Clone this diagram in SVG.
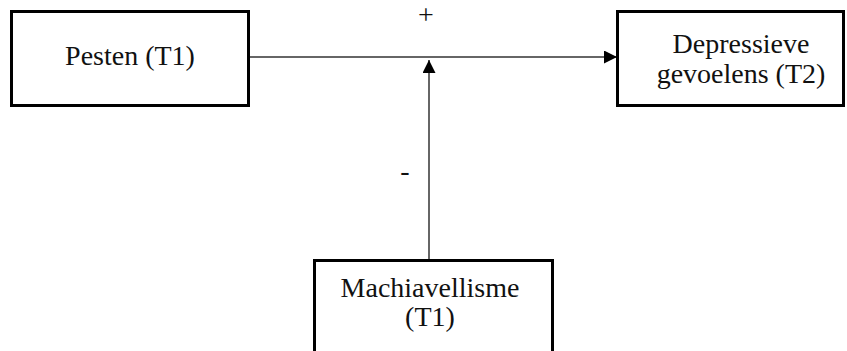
<svg xmlns="http://www.w3.org/2000/svg" width="847" height="351" viewBox="0 0 847 351">
<style>
.box{fill:#fff;stroke:#000;stroke-width:3}
.t{font-family:'Liberation Serif','DejaVu Serif',serif;font-size:28px;fill:#111;text-anchor:middle}
.c{stroke:#333;stroke-width:1.5;fill:none}
</style>
<defs>
<marker id="ah" viewBox="0 0 13 13" refX="13" refY="6.5" markerWidth="13" markerHeight="13" markerUnits="userSpaceOnUse" orient="auto">
<path d="M0,0 L13,6.5 L0,13 Z" fill="#000"/>
</marker>
</defs>
<rect width="847" height="351" fill="#fff"/>
<g id="connectors">
<line class="c" x1="250" y1="57" x2="617" y2="57" marker-end="url(#ah)"/>
<line class="c" x1="429" y1="260" x2="429" y2="60" marker-end="url(#ah)"/>
<text class="t" x="426" y="24" font-family="Liberation Serif, serif">+</text>
<text class="t" x="405" y="180" font-family="Liberation Serif, serif">-</text>
</g>
<g id="pesten">
<rect class="box" x="11.5" y="11.5" width="237" height="94"/>
<text class="t" x="130" y="65" font-family="Liberation Serif, serif">Pesten (T1)</text>
</g>
<g id="depressieve">
<rect class="box" x="617.5" y="11.5" width="226" height="94"/>
<text class="t" x="741" y="53" font-family="Liberation Serif, serif">Depressieve</text>
<text class="t" x="741" y="83" font-family="Liberation Serif, serif">gevoelens (T2)</text>
</g>
<g id="machiavellisme">
<rect class="box" x="314.5" y="260.5" width="238" height="100"/>
<text class="t" x="430" y="297" font-family="Liberation Serif, serif">Machiavellisme</text>
<text class="t" x="430" y="326" font-family="Liberation Serif, serif">(T1)</text>
</g>
</svg>
